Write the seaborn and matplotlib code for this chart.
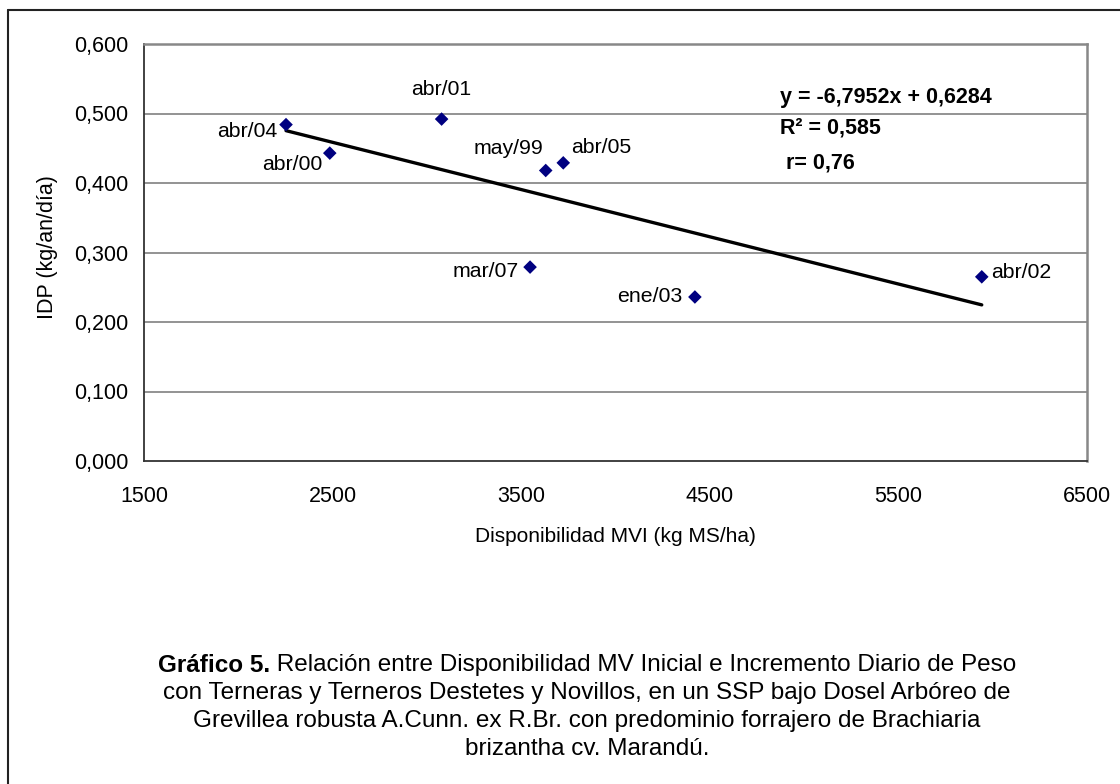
import matplotlib
matplotlib.use("Agg")
import matplotlib.pyplot as plt
from matplotlib.lines import Line2D
from matplotlib.ticker import FixedLocator, FuncFormatter
import numpy as np
import pandas as pd
import seaborn as sns

# ---------------- data ----------------
periods = ["abr/04", "abr/00", "abr/01", "may/99", "abr/05", "mar/07", "ene/03", "abr/02"]
disponibilidad = [2253, 2485, 3078, 3630, 3723, 3547, 4421, 5942]
idp = [0.484, 0.443, 0.492, 0.418, 0.429, 0.279, 0.236, 0.265]

trend_slope = -6.7952e-5
trend_intercept = 0.6284
eq_lines = ["y = -6,7952x + 0,6284", "R² = 0,585", " r= 0,76"]

x_ticks = [1500, 2500, 3500, 4500, 5500, 6500]
y_ticks = [0.0, 0.1, 0.2, 0.3, 0.4, 0.5, 0.6]

x_label = "Disponibilidad MVI (kg MS/ha)"
y_label = "IDP (kg/an/día)"
caption_bold = "Gráfico 5."
caption_rest = " Relación entre Disponibilidad MV Inicial e Incremento Diario de Peso"
caption_lines = [
    "con Terneras y Terneros Destetes y Novillos, en un SSP bajo Dosel Arbóreo de",
    "Grevillea robusta A.Cunn. ex R.Br. con predominio forrajero de Brachiaria",
    "brizantha cv. Marandú.",
]

# label offsets (points) and alignment
label_pos = {
    "abr/04": (-6, -5, "right"),
    "abr/00": (-5, -8, "right"),
    "abr/01": (0, 21, "center"),
    "may/99": (-2, 16, "right"),
    "abr/05": (6, 11, "left"),
    "mar/07": (-8, -3, "right"),
    "ene/03": (-9, 0, "right"),
    "abr/02": (7, 3, "left"),
}

df = pd.DataFrame({"periodo": periods, "disp": disponibilidad, "idp": idp})

# ---------------- figure ----------------
sns.set_style("white")
plt.rcParams["font.family"] = ["Liberation Sans", "DejaVu Sans"]
plt.rcParams["text.color"] = "black"
plt.rcParams["axes.labelcolor"] = "black"
W, H = 1120, 784
fig = plt.figure(figsize=(W / 100, H / 100), dpi=100)
fig.patch.set_facecolor("white")

def fx(px):
    return px / W

def fy(py):
    return 1 - py / H

ax = fig.add_axes([fx(144), fy(461), fx(1087) - fx(144), fy(44) - fy(461)])

# grid lines
for yv in y_ticks[1:]:
    ax.axhline(yv, color="#808080", lw=1.2, zorder=0)

# trend line
tx = np.array([min(disponibilidad), max(disponibilidad)])
ty = trend_slope * tx + trend_intercept
sns.lineplot(x=tx, y=ty, ax=ax, color="black", lw=2.4, zorder=2)

# points
sns.scatterplot(data=df, x="disp", y="idp", ax=ax, marker="D", s=48,
                color="#000080", edgecolor="none", zorder=3)

for p, xv, yv in zip(periods, disponibilidad, idp):
    dx, dy, ha = label_pos[p]
    ax.annotate(p, (xv, yv), xytext=(dx, dy), textcoords="offset points",
                ha=ha, va="center", fontsize=15.3, color="black")

ax.set_xlim(1500, 6500)
ax.set_ylim(0, 0.6)
ax.xaxis.set_major_locator(FixedLocator(x_ticks))
ax.yaxis.set_major_locator(FixedLocator(y_ticks))
ax.yaxis.set_major_formatter(FuncFormatter(lambda v, pos: f"{v:.3f}".replace(".", ",")))
ax.xaxis.set_major_formatter(FuncFormatter(lambda v, pos: f"{int(v)}"))
ax.tick_params(axis="both", which="major", labelsize=15.5, length=5, width=1.2,
               color="#333333", direction="out", labelcolor="black")
ax.tick_params(axis="x", pad=13)
ax.tick_params(axis="y", pad=6)

for s in ["left", "bottom"]:
    ax.spines[s].set_color("#333333")
    ax.spines[s].set_linewidth(1.3)
for s in ["top", "right"]:
    ax.spines[s].set_color("#888888")
    ax.spines[s].set_linewidth(1.8)

ax.set_xlabel(x_label, fontsize=15, color="black")
ax.set_ylabel(y_label, fontsize=15.5, color="black")
ax.xaxis.set_label_coords(0.5, -0.158)
ax.yaxis.set_label_coords(-0.091, 0.513)

# equation text
eq_y = [97, 128, 163]
eq_x = [780, 780, 780]
for t, xx, yy in zip(eq_lines, eq_x, eq_y):
    fig.text(fx(xx), fy(yy), t, fontsize=15.5, fontweight="bold", ha="left",
             va="center", color="black")

# caption
cx = 587
cap_fs = 17.5
renderer = fig.canvas.get_renderer()
tb = fig.text(0, fy(665), caption_bold, fontsize=cap_fs, fontweight="bold",
              va="center", color="black")
tr = fig.text(0, fy(665), caption_rest, fontsize=cap_fs, va="center", color="black")
wb = tb.get_window_extent(renderer).width
wr = tr.get_window_extent(renderer).width
start = cx - (wb + wr) / 2
tb.set_x(fx(start))
tr.set_x(fx(start + wb))
for i, line in enumerate(caption_lines):
    fig.text(fx(cx), fy(693 + 28 * i), line, fontsize=cap_fs, ha="center",
             va="center", color="black")

# outer frame (left and top edges)
fig.add_artist(Line2D([fx(7.5), fx(7.5)], [fy(10), 0], color="#222222", lw=1.5))
fig.add_artist(Line2D([fx(7.5), 1], [fy(10), fy(10)], color="#222222", lw=1.5))

fig.savefig("out.png", dpi=100, facecolor="white")
